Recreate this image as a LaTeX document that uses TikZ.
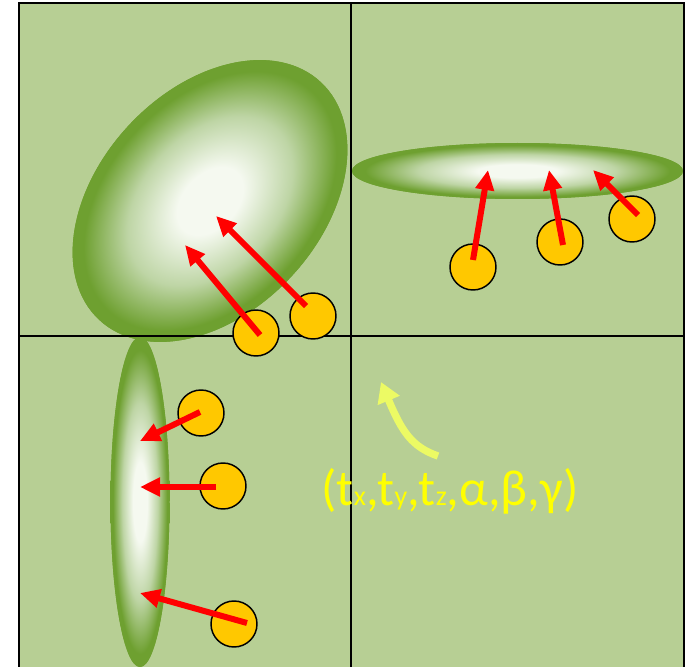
\documentclass[tikz,border=0pt]{standalone}
\usepackage{fontspec}
\setmainfont{Carlito}
\usetikzlibrary{arrows.meta}
\definecolor{bggreen}{RGB}{183,207,148}
\definecolor{rimgreen}{RGB}{110,160,48}
\definecolor{coregreen}{RGB}{245,249,240}
\definecolor{midgreen}{RGB}{190,213,165}
\definecolor{ballgold}{RGB}{255,200,0}
\definecolor{hintyellow}{RGB}{236,250,100}
\definecolor{textyellow}{RGB}{255,255,0}
\pgfdeclareradialshading{lensshade}{\pgfpoint{0bp}{0bp}}{color(0bp)=(coregreen); color(6bp)=(coregreen); color(15bp)=(midgreen); color(23bp)=(rimgreen); color(25bp)=(rimgreen); color(50bp)=(rimgreen)}
\newcommand{\subt}[1]{{\fontsize{21}{22}\selectfont #1}}
\begin{document}
\begin{tikzpicture}[x=0.75pt,y=-0.75pt,
  gridline/.style={draw=black,line width=1.3pt},
  lens/.style={shading=lensshade},
  ball/.style={circle,draw=black,line width=1.1pt,fill=ballgold,minimum size=34.5pt,inner sep=0pt},
  redarrow/.style={draw=red,line width=4.5pt,-{Triangle[length=15pt,width=13.5pt]}},
  hintarrow/.style={draw=hintyellow,line width=5.5pt,-{Triangle[length=15pt,width=17pt]}}]
\useasboundingbox (0,0) rectangle (690,667);
\fill[bggreen] (19,3) rectangle (684,700);
% lens shapes
\begin{scope}[transform canvas={shift={(210,201)},rotate=47}]
  \fill[rimgreen] (0,0) ellipse [x radius=162.5, y radius=111];
  \shade[lens] (0,0) ellipse [x radius=162.5, y radius=111];
\end{scope}
\fill[rimgreen] (517.5,171) ellipse [x radius=165.5, y radius=28];
\shade[lens] (517.5,171) ellipse [x radius=165.5, y radius=28];
\fill[rimgreen] (140,502) ellipse [x radius=29.5, y radius=165];
\shade[lens] (140,502) ellipse [x radius=29.5, y radius=165];
% grid
\draw[gridline] (19,3) rectangle (684,700);
\draw[gridline] (351,3) -- (351,700);
\draw[gridline] (19,336) -- (684,336);
% balls
\node[ball] (b1) at (256,333) {};
\node[ball] (b2) at (313,316) {};
\node[ball] (b3) at (473,267) {};
\node[ball] (b4) at (560,242) {};
\node[ball] (b5) at (632,219) {};
\node[ball] (b6) at (201,413) {};
\node[ball] (b7) at (223,486) {};
\node[ball] (b8) at (234,624) {};
% arrow ends
\coordinate (s1) at (260,335); \coordinate (t1) at (185,245);
\coordinate (s2) at (306,306); \coordinate (t2) at (216,216);
\coordinate (s3) at (473,260); \coordinate (t3) at (488,170);
\coordinate (s4) at (563,245); \coordinate (t4) at (549,170);
\coordinate (s5) at (638,215); \coordinate (t5) at (593,170);
\coordinate (s6) at (200,412); \coordinate (t6) at (140,441);
\coordinate (s7) at (216,487); \coordinate (t7) at (140,487);
\coordinate (s8) at (247,623); \coordinate (t8) at (140,593);
\foreach \i in {1,...,8} {\draw[redarrow] (s\i) -- (t\i);}
% motion hint
\coordinate (ys) at (438,456);
\coordinate (ye) at (381,382);
\draw[hintarrow] (ys) .. controls (412,447) and (402,432) .. (ye);
\node[text=textyellow,font=\fontsize{38}{42}\selectfont,inner sep=0pt] (params) at (450,491)
  {(t\subt{x},t\subt{y},t\subt{z},α,β,γ)};
\end{tikzpicture}
\end{document}
